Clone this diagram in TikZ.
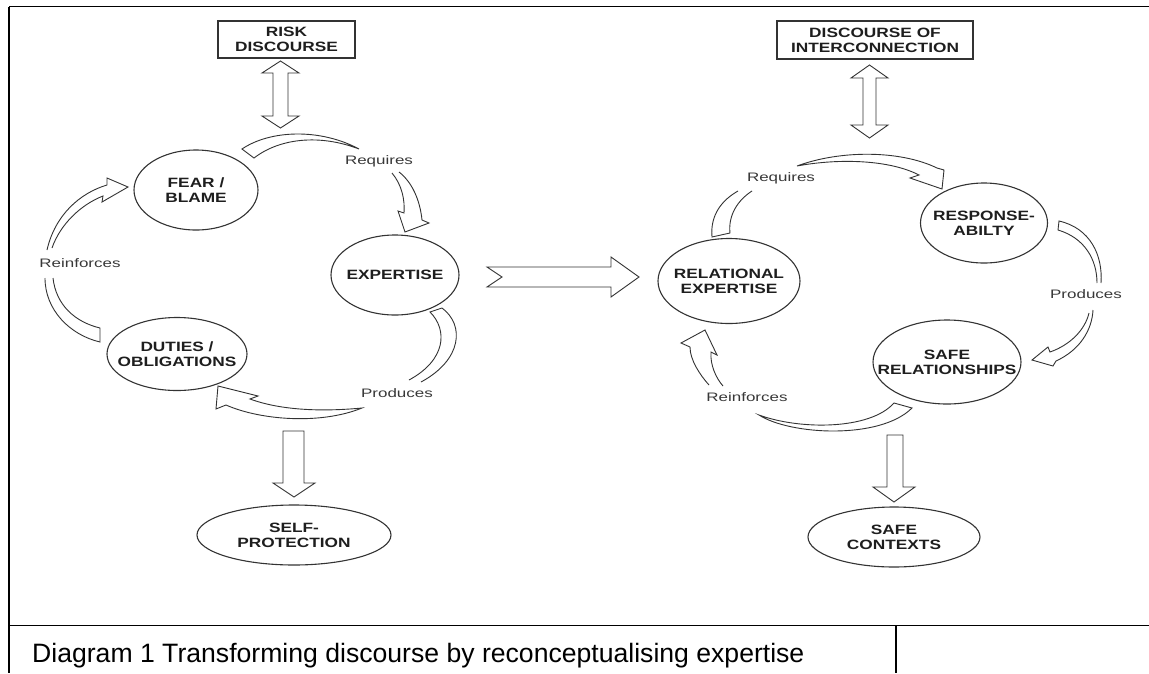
\documentclass[tikz,border=0pt]{standalone}
\usepackage{fontspec}
\setmainfont{Liberation Sans}
\newfontfamily\nodefont[FakeStretch=1.28]{Liberation Sans}
\newfontfamily\labfont[FakeStretch=1.38]{Liberation Sans}
\usetikzlibrary{shapes.geometric}
\definecolor{ln}{HTML}{333333}
\definecolor{tx}{HTML}{1E1E1E}
\definecolor{lb}{HTML}{383838}
\tikzset{
  circ/.style={ellipse, draw=ln, line width=1.1pt, fill=white, inner sep=0pt},
  boxn/.style={rectangle, draw=ln, line width=1.1pt, fill=white, inner sep=0pt, align=center,
               font=\nodefont\bfseries\fontsize{13.5}{15}\selectfont, text=tx},
  ntext/.style={align=center, font=\nodefont\bfseries\fontsize{13.5}{15}\selectfont, text=tx},
  lbl/.style={align=center, inner sep=1pt, font=\labfont\fontsize{12.3}{14}\selectfont, text=lb},
  band/.style={draw=ln, line width=0.9pt, fill=white, line join=miter},
  rule/.style={draw=black, line width=1.4pt}
}
\begin{document}
\begin{tikzpicture}[x=1pt,y=-1pt]
\useasboundingbox (0,0) rectangle (1149,673);
% table frame
\draw[rule] (9,6.5) -- (1149,6.5);
\draw[rule] (9,6.5) -- (9,673);
\draw[rule] (9,625.5) -- (1149,625.5);
\draw[rule] (896,625.5) -- (896,673);
\node[anchor=base west, font=\fontsize{26.6}{30}\selectfont, inner sep=0pt] (caption) at (32,662)
  {Diagram 1 Transforming discourse by reconceptualising expertise};

% ---------- left cycle ----------
\node[boxn, minimum width=137pt, minimum height=37pt] (risk) at (286.5,39.5) {RISK\\DISCOURSE};
\node[circ, minimum width=124pt, minimum height=80pt, label={[ntext]center:FEAR /\\BLAME}] (fear) at (196,190) {};
\node[circ, minimum width=128pt, minimum height=80pt, label={[ntext]center:EXPERTISE}] (expert) at (395,275) {};
\node[circ, minimum width=140pt, minimum height=73pt, label={[ntext]center:DUTIES /\\OBLIGATIONS}] (duties) at (177,354) {};
\node[circ, minimum width=194pt, minimum height=60pt, label={[ntext]center:SELF-\\PROTECTION}] (selfprot) at (294,535) {};

\node[lbl] (reqL) at (379,161) {Requires};
\node[lbl] (reiL) at (80,263) {Reinforces};
\node[lbl] (proL) at (397,393) {Produces};

% double arrow risk <-> cycle
\draw[band] (280.5,61) -- (299,73) -- (288,73) -- (288,116) -- (299,116) -- (280.5,128)
  -- (262,116) -- (273,116) -- (273,73) -- (262,73) -- cycle;
% down arrow to self-protection
\draw[band] (283,431) -- (304,431) -- (304,483) -- (315,483) -- (294,497) -- (273,483) -- (283,483) -- cycle;
% requires: upper band
\draw[band] (242,149) .. controls (270,130) and (320,128) .. (359,149)
  .. controls (320,134) and (280,138) .. (254,158) -- cycle;
% requires: lower arrow to expertise
\draw[band] (392,173) .. controls (402,185) and (405,200) .. (404,213) -- (398,211) -- (405,232)
  -- (429,223) -- (422,220) .. controls (420,200) and (412,182) .. (399,172);
% produces: upper band
\draw[band] (421,382) .. controls (462,360) and (465,325) .. (442,308) -- (430,312)
  .. controls (448,330) and (446,360) .. (409,380);
% produces: lower arrow to duties
\draw[band] (362,408) .. controls (320,425) and (260,420) .. (226,405) -- (216,409) -- (218,386)
  -- (258,396) -- (250,399) .. controls (280,410) and (320,412) .. (362,408) -- cycle;
% reinforces: lower band
\draw[band] (45,278) .. controls (45,310) and (70,335) .. (100,342) -- (100,328)
  .. controls (75,322) and (56,305) .. (53,278);
% reinforces: upper arrow to fear
\draw[band] (47,250) .. controls (55,215) and (80,193) .. (107,185) -- (107,178) -- (128,187)
  -- (102,202) -- (103,196) .. controls (80,205) and (60,225) .. (52,248);

% big middle arrow
\draw[band] (487,267) -- (611,267) -- (611,257) -- (639,277) -- (611,297) -- (611,287) -- (487,287) -- (502,277) -- cycle;

% ---------- right cycle ----------
\node[boxn, minimum width=196pt, minimum height=38pt] (inter) at (875,40) {DISCOURSE OF\\INTERCONNECTION};
\node[circ, minimum width=142pt, minimum height=85pt, label={[ntext]center:RELATIONAL\\EXPERTISE}] (relexp) at (729,281) {};
\node[circ, minimum width=127pt, minimum height=80pt, label={[ntext]center:RESPONSE-\\ABILTY}] (respons) at (984,223) {};
\node[circ, minimum width=148pt, minimum height=84pt, label={[ntext]center:SAFE\\RELATIONSHIPS}] (saferel) at (947,362) {};
\node[circ, minimum width=172pt, minimum height=60pt, label={[ntext]center:SAFE\\CONTEXTS}] (safectx) at (894,537) {};

\node[lbl] (reqR) at (781,178) {Requires};
\node[lbl] (proR) at (1086,294) {Produces};
\node[lbl] (reiR) at (747,397) {Reinforces};

% double arrow interconnection <-> cycle
\draw[band] (869.5,65) -- (888,78) -- (876,78) -- (876,125) -- (888,125) -- (869.5,138)
  -- (851,125) -- (863,125) -- (863,78) -- (851,78) -- cycle;
% down arrow to safe contexts
\draw[band] (887,435) -- (903,435) -- (903,487) -- (915,487) -- (894,502) -- (873,487) -- (887,487) -- cycle;
% requires: upper arrow to response-ability
\draw[band] (797,166) .. controls (840,150) and (900,150) .. (937,168) -- (944,170) -- (942,189)
  -- (910,178) -- (919,175) .. controls (890,160) and (840,158) .. (797,166) -- cycle;
% requires: lower band from relational expertise
\draw[band] (738,191) .. controls (722,200) and (710,215) .. (712,237) -- (730,233)
  .. controls (728,215) and (738,200) .. (752,191);
% produces: upper band
\draw[band] (1097,283) .. controls (1097,260) and (1085,238) .. (1058,230) -- (1059,221)
  .. controls (1090,228) and (1103,255) .. (1101,283);
% produces: lower arrow to safe relationships
\draw[band] (1089,313) .. controls (1085,330) and (1070,345) .. (1050,352) -- (1048,347) -- (1032,360)
  -- (1053,366) -- (1056,361) .. controls (1080,350) and (1092,330) .. (1093,310);
% reinforces: upper arrow to relational expertise
\draw[band] (709,385) .. controls (700,375) and (690,360) .. (690,347) -- (681,343) -- (705,330)
  -- (717,355) -- (711,352) .. controls (710,365) and (716,378) .. (723,386);
% reinforces: lower band from safe relationships
\draw[band] (759,415) .. controls (790,435) and (880,440) .. (912,408) -- (894,403)
  .. controls (870,430) and (800,430) .. (759,415) -- cycle;
\end{tikzpicture}
\end{document}
